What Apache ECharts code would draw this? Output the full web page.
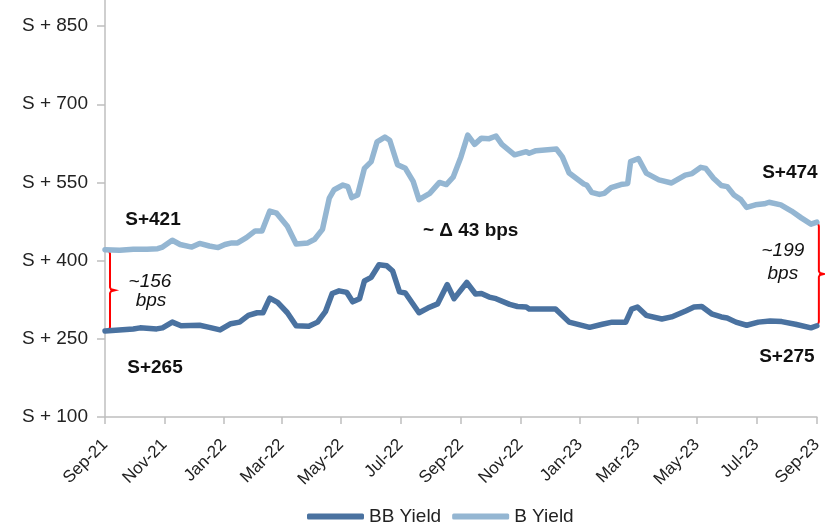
<!DOCTYPE html>
<html><head><meta charset="utf-8">
<script src="https://cdn.jsdelivr.net/npm/echarts@6/dist/echarts.min.js"></script>
<style>html,body{margin:0;padding:0;background:#fff}#c{width:825px;height:527px}</style>
</head><body><div id="c"></div>
<script>
// ---- data ----
const seriesNames = ['BB Yield', 'B Yield'];
const xTickDates = ['2021-09-01','2021-11-01','2022-01-01','2022-03-01','2022-05-01','2022-07-01','2022-09-01','2022-11-01','2023-01-01','2023-03-01','2023-05-01','2023-07-01','2023-09-01'];
const monthNames = ['Jan','Feb','Mar','Apr','May','Jun','Jul','Aug','Sep','Oct','Nov','Dec'];
const yTickValues = [100, 250, 400, 550, 700, 850];

const bDates = ['2021-09-01','2021-09-16','2021-09-30','2021-10-14','2021-10-25','2021-10-30','2021-11-09','2021-11-17','2021-11-29','2021-12-07','2021-12-17','2021-12-26','2022-01-02','2022-01-09','2022-01-15','2022-01-24','2022-02-02','2022-02-09','2022-02-17','2022-02-24','2022-03-07','2022-03-16','2022-03-28','2022-04-04','2022-04-12','2022-04-19','2022-04-24','2022-05-03','2022-05-08','2022-05-12','2022-05-18','2022-05-25','2022-06-01','2022-06-07','2022-06-15','2022-06-20','2022-06-28','2022-07-06','2022-07-14','2022-07-20','2022-07-31','2022-08-10','2022-08-17','2022-08-24','2022-09-01','2022-09-08','2022-09-15','2022-09-22','2022-09-30','2022-10-07','2022-10-13','2022-10-26','2022-11-07','2022-11-10','2022-11-17','2022-12-08','2022-12-14','2022-12-21','2023-01-05','2023-01-08','2023-01-13','2023-01-21','2023-01-26','2023-02-02','2023-02-12','2023-02-19','2023-02-22','2023-03-02','2023-03-10','2023-03-23','2023-04-05','2023-04-19','2023-04-26','2023-05-05','2023-05-10','2023-05-18','2023-05-26','2023-06-01','2023-06-08','2023-06-15','2023-06-21','2023-06-30','2023-07-09','2023-07-14','2023-07-26','2023-08-06','2023-08-16','2023-08-26','2023-09-01'];
const bValues = [421,420,422,422,423,426,439,431,426,433,428,425,431,434,434,444,457,457,495,491,466,432,434,441,460,520,536,545,542,521,526,577,590,628,637,631,584,577,552,517,529,550,546,560,599,641,623,635,634,639,623,603,609,606,611,614,599,568,547,545,531,527,529,540,546,548,590,596,568,555,549,564,567,579,577,558,544,542,526,517,502,507,509,512,507,495,482,470,474];

const bbDates = ['2021-09-01','2021-09-30','2021-10-07','2021-10-24','2021-10-30','2021-11-09','2021-11-18','2021-12-07','2021-12-17','2021-12-28','2022-01-08','2022-01-17','2022-01-26','2022-02-04','2022-02-10','2022-02-17','2022-02-25','2022-03-07','2022-03-16','2022-03-29','2022-04-07','2022-04-15','2022-04-22','2022-04-29','2022-05-07','2022-05-13','2022-05-20','2022-05-25','2022-06-01','2022-06-09','2022-06-17','2022-06-23','2022-06-30','2022-07-06','2022-07-20','2022-07-29','2022-08-08','2022-08-18','2022-08-25','2022-09-07','2022-09-16','2022-09-22','2022-09-30','2022-10-07','2022-10-21','2022-10-29','2022-11-07','2022-11-10','2022-12-07','2022-12-21','2023-01-11','2023-01-24','2023-02-03','2023-02-17','2023-02-23','2023-03-01','2023-03-10','2023-03-26','2023-04-05','2023-04-20','2023-04-28','2023-05-06','2023-05-16','2023-05-26','2023-06-01','2023-06-10','2023-06-21','2023-07-03','2023-07-15','2023-07-27','2023-08-10','2023-08-26','2023-09-01'];
const bbValues = [265,269,271,269,271,282,275,276,272,267,279,282,295,300,300,328,320,300,275,274,282,302,337,342,339,321,327,361,368,392,390,380,340,338,300,309,317,354,327,358,336,337,330,327,316,312,311,307,307,282,272,278,282,282,307,311,295,288,292,304,311,312,298,292,290,282,276,282,284,283,278,271,275];

// annotation texts
const startLabels = ['S+265', 'S+421'];
const endLabels = ['S+275', 'S+474'];
const startSpread = ['~156', 'bps'];
const endSpread = ['~199', 'bps'];
const midLabel = '~ \u0394 43 bps';
const midAnchor = ['2022-09-11', 458];

// ---- chart ----
const FONT = '"Liberation Sans", Arial, sans-serif';
const C_BB = '#4A72A0', C_B = '#94B6D2';
function ts(s){const p=s.split('-');return Date.UTC(+p[0],+p[1]-1,+p[2]);}
function fmtMonth(v){const d=new Date(v);return monthNames[d.getUTCMonth()]+'-'+String(d.getUTCFullYear()).slice(2);}

const chart = echarts.init(document.getElementById('c'), null, {renderer:'canvas'});
const xTicks = xTickDates.map(ts);
chart.setOption({
  animation:false,
  backgroundColor:'#fff',
  grid:{left:105,right:7,top:-3,bottom:110},
  xAxis:{
    type:'value', min:xTicks[0], max:xTicks[xTicks.length-1],
    axisLine:{show:true,lineStyle:{color:'#BFBFBF',width:1.5}},
    axisTick:{show:true,customValues:xTicks,length:7,lineStyle:{color:'#BFBFBF',width:1.5}},
    axisLabel:{customValues:xTicks,rotate:45,margin:25,formatter:fmtMonth,color:'#222',fontFamily:FONT,fontSize:17,hideOverlap:false},
    splitLine:{show:false}
  },
  yAxis:{
    type:'value', min:100, max:900,
    axisLine:{show:true,lineStyle:{color:'#BFBFBF',width:1.5}},
    axisTick:{show:true,length:8,lineStyle:{color:'#BFBFBF',width:1.5},customValues:yTickValues},
    axisLabel:{customValues:yTickValues,formatter:v=>'S + '+v,margin:17,color:'#222',fontFamily:FONT,fontSize:19},
    splitLine:{show:false}
  },
  legend:{
    data:seriesNames, left:307, top:507, padding:0, icon:'roundRect', itemWidth:57, itemHeight:6, itemGap:11,
    textStyle:{fontFamily:FONT,fontSize:19,color:'#222'}
  },
  series:[
    {name:seriesNames[0],type:'line',showSymbol:false,data:bbDates.map((d,i)=>[ts(d),bbValues[i]]),
     lineStyle:{color:C_BB,width:5.5,join:'round',cap:'round'},itemStyle:{color:C_BB}},
    {name:seriesNames[1],type:'line',showSymbol:false,data:bDates.map((d,i)=>[ts(d),bValues[i]]),
     lineStyle:{color:C_B,width:5.5,join:'round',cap:'round'},itemStyle:{color:C_B}}
  ]
});

function px(d,v){return chart.convertToPixel({xAxisIndex:0,yAxisIndex:0},[ts(d),v]);}
function brace(x,yT,yB){
  const m=(yT+yB)/2;
  return {type:'polyline',silent:true,shape:{points:[[x-4,yT],[x-1,yT+1],[x,yT+4],[x,m-3],[x+1,m-1],[x+5,m],[x+1,m+1],[x,m+3],[x,yB-4],[x-1,yB-1],[x-4,yB]]},
    style:{stroke:'#FF0000',lineWidth:2,fill:null}};
}
function txt(t,x,y,w,s){return {type:'text',silent:true,style:{text:t,x:x,y:y,fill:'#111',fontFamily:FONT,fontSize:19,fontWeight:w||'normal',fontStyle:s||'normal',align:'center',verticalAlign:'middle'}};}

const d0=bDates[0], d1=bDates[bDates.length-1];
const bS=px(d0,bValues[0]), bbS=px(bbDates[0],bbValues[0]);
const bE=px(d1,bValues[bValues.length-1]), bbE=px(bbDates[bbDates.length-1],bbValues[bbValues.length-1]);
const mid=px(midAnchor[0],midAnchor[1]);
const lx=bS[0]+5, lm=(bS[1]+bbS[1])/2;
const rx=bE[0]+2, rm=(bE[1]+bbE[1])/2;
chart.setOption({graphic:[
  brace(lx,bS[1],bbS[1]),
  brace(rx,bE[1],bbE[1]),
  txt(startLabels[1],bS[0]+48,bS[1]-30,'bold'),
  txt(startLabels[0],bbS[0]+50,bbS[1]+37,'bold'),
  txt(endLabels[1],bE[0]-27,bE[1]-49,'bold'),
  txt(endLabels[0],bbE[0]-30,bbE[1]+31,'bold'),
  txt(midLabel,mid[0],mid[1],'bold'),
  txt(startSpread[0],lx+40,lm-9,'normal','italic'),
  txt(startSpread[1],lx+41,lm+10,'normal','italic'),
  txt(endSpread[0],rx-36,rm-23,'normal','italic'),
  txt(endSpread[1],rx-36,rm,'normal','italic')
]});
</script></body></html>
